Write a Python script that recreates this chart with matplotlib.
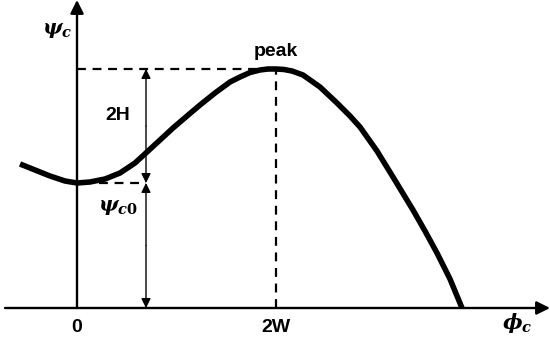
import matplotlib.pyplot as plt
import matplotlib as mpl

# compressor characteristic
# phi in units of W (2W at 2), psi with psi_c0 = 1.25
phi = [-0.57, -0.42, -0.27, -0.12, 0.0, 0.13, 0.28, 0.43, 0.58, 0.70, 0.83,
       0.96, 1.10, 1.23, 1.38, 1.53, 1.63, 1.73, 1.83, 1.91, 1.99, 2.07, 2.15,
       2.26, 2.43, 2.60, 2.73, 2.83, 3.00, 3.16, 3.36, 3.48, 3.60, 3.73, 3.85]
psi = [1.44, 1.38, 1.32, 1.27, 1.25, 1.26, 1.29, 1.35, 1.45, 1.56, 1.68,
       1.80, 1.92, 2.03, 2.15, 2.26, 2.31, 2.355, 2.38, 2.39, 2.39, 2.385, 2.37,
       2.33, 2.21, 2.05, 1.92, 1.81, 1.57, 1.31, 0.98, 0.77, 0.55, 0.29, 0.0]

psi_c0 = 1.25
psi_peak = 2.39
phi_peak = 1.99
phi_arrow = 0.69

x_ticks = [0, phi_peak]
x_labels = ['0', '2W']

mpl.rcParams['mathtext.fontset'] = 'custom'
mpl.rcParams['mathtext.it'] = 'DejaVu Serif:italic:bold'
mpl.rcParams['mathtext.rm'] = 'DejaVu Serif:bold'

fig = plt.figure(figsize=(5.5, 3.44), dpi=100)
ax = fig.add_axes([0, 0, 1, 1])
ax.set_xlim(-0.77, 4.73)
ax.set_ylim(-0.36, 3.08)
ax.axis('off')

# axes with arrows
ax.annotate('', xy=(4.73, 0), xytext=(-0.72, 0),
            arrowprops=dict(arrowstyle='-|>', lw=1.7, color='black',
                            mutation_scale=20, shrinkA=0, shrinkB=0))
ax.annotate('', xy=(0, 3.08), xytext=(0, 0),
            arrowprops=dict(arrowstyle='-|>', lw=1.7, color='black',
                            mutation_scale=20, shrinkA=0, shrinkB=0))

# dashed guides
dash = dict(color='black', lw=1.6, linestyle=(0, (4, 3)))
ax.plot([0, phi_peak], [psi_peak, psi_peak], **dash)
ax.plot([phi_peak, phi_peak], [0, psi_peak], **dash)
ax.plot([0.22, phi_arrow], [psi_c0, psi_c0], **dash)

# dimension arrows
for y0, y1 in [(psi_c0, psi_peak), (psi_c0, 0)]:
    ax.annotate('', xy=(phi_arrow, y1), xytext=(phi_arrow, (y0 + y1) / 2),
                arrowprops=dict(arrowstyle='-|>', lw=1.0, color='black',
                                mutation_scale=14, shrinkA=0, shrinkB=0))
    ax.annotate('', xy=(phi_arrow, y0), xytext=(phi_arrow, (y0 + y1) / 2),
                arrowprops=dict(arrowstyle='-|>', lw=1.0, color='black',
                                mutation_scale=14, shrinkA=0, shrinkB=0))

# the curve
ax.plot(phi, psi, color='black', lw=4.0, solid_joinstyle='round',
        solid_capstyle='butt')

# texts
font = dict(family='Liberation Sans', fontweight='bold', fontsize=14,
            ha='center', va='center')
ax.text(phi_peak, 2.56, 'peak', **font)
ax.text(0.41, 1.93, '2H', **font)
for xt, lab in zip(x_ticks, x_labels):
    ax.text(xt, -0.19, lab, **font)
ax.text(-0.20, 2.78, r'$\psi_c$', fontsize=15, ha='center', va='center')
ax.text(0.41, 1.01, r'$\psi_{c0}$', fontsize=15, ha='center', va='center')
ax.text(4.40, -0.15, r'$\phi_c$', fontsize=15, ha='center', va='center')

fig.savefig('out.png', dpi=100)
